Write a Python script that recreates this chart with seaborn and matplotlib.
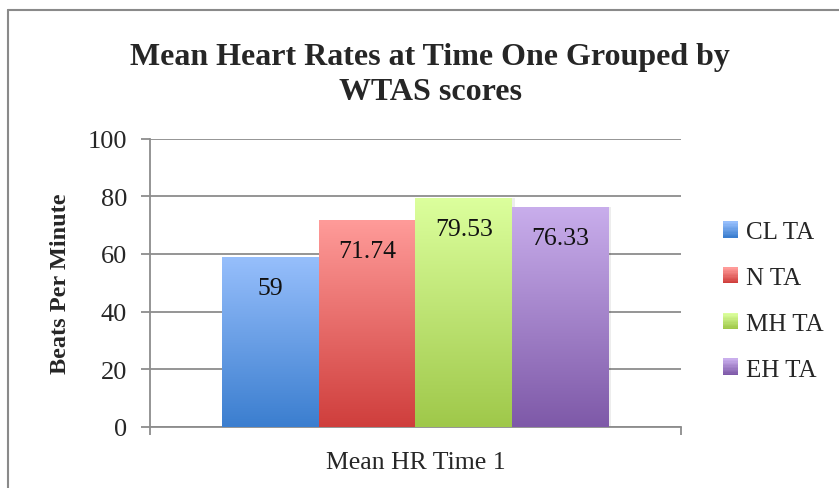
import numpy as np
import pandas as pd
import matplotlib
matplotlib.use("Agg")
import matplotlib.pyplot as plt
import seaborn as sns
from matplotlib.patches import Rectangle
from matplotlib.legend_handler import HandlerBase
from matplotlib.colors import LinearSegmentedColormap

# data
groups = ["CL TA", "N TA", "MH TA", "EH TA"]
values = [59, 71.74, 79.53, 76.33]
category = "Mean HR Time 1"
top_colors = ["#97BFFC", "#FF9B99", "#DCFF9D", "#C9AEEC"]
bottom_colors = ["#3B7ECF", "#CF3E3C", "#9FC84A", "#7E59A8"]

df = pd.DataFrame({"cat": [category] * len(groups), "group": groups, "value": values})

sns.set_theme(style="white")
plt.rcParams["font.family"] = ["Liberation Serif", "DejaVu Serif"]

grid_col = "#8c8c8c"

fig = plt.figure(figsize=(8.39, 4.89), dpi=100)
ax = fig.add_axes([150 / 839, 1 - 428 / 489, (681 - 150) / 839, (428 - 139.5) / 489])

mid_colors = [tuple((np.array(matplotlib.colors.to_rgb(t)) + np.array(matplotlib.colors.to_rgb(b))) / 2)
              for t, b in zip(top_colors, bottom_colors)]
sns.barplot(data=df, x="cat", y="value", hue="group", hue_order=groups,
            palette=mid_colors, width=0.728, saturation=1, legend=False, ax=ax, zorder=3)

# gradient fill for each bar
for patch, v, tc, bc in zip(ax.patches, values, top_colors, bottom_colors):
    x0 = patch.get_x()
    w = patch.get_width()
    h = patch.get_height()
    cmap = LinearSegmentedColormap.from_list("g", [bc, tc])
    grad = np.linspace(0, 1, 256).reshape(-1, 1)
    # soft shadow on the right
    ax.add_patch(Rectangle((x0 + 0.005, 0), w, h, facecolor="#000000", alpha=0.07,
                           edgecolor="none", zorder=2.5))
    im = ax.imshow(grad, extent=[x0, x0 + w, 0, h], origin="lower", cmap=cmap,
                   aspect="auto", zorder=3.5)
    im.set_clip_path(patch)
    patch.set_facecolor("none")
    patch.set_edgecolor("none")
    ax.annotate(f"{v:g}", (x0 + w / 2, h), xytext=(0, -22.5), textcoords="offset points",
                ha="center", va="center", fontsize=18.5, color="#111111", zorder=5)

ax.set_xlim(-0.5, 0.5)
ax.set_ylim(0, 100)
ax.set_yticks(np.arange(0, 101, 20))
ax.yaxis.grid(True, color=grid_col, linewidth=1.3, zorder=0)
ax.set_axisbelow(True)
for s in ["top", "right"]:
    ax.spines[s].set_visible(False)
for s in ["left", "bottom"]:
    ax.spines[s].set_color(grid_col)
    ax.spines[s].set_linewidth(1.3)

ax.set_xticks([0])
ax.set_xticklabels([category])
ax.set_xticks([-0.5, 0.5], minor=True)
ax.tick_params(axis="x", which="major", length=0, pad=17, labelsize=18.5)
ax.tick_params(axis="x", which="minor", length=6, width=1.3, color=grid_col, direction="out", bottom=True)
ax.tick_params(axis="y", length=6.5, width=1.3, color=grid_col, direction="out", pad=10,
               labelsize=19, left=True)
ax.set_xlabel("")
ax.set_ylabel("Beats Per Minute", fontsize=17.5, fontweight="bold", labelpad=12)


# legend with gradient squares
class GradHandler(HandlerBase):
    def __init__(self, top, bottom):
        super().__init__()
        self.top = top
        self.bottom = bottom

    def create_artists(self, legend, orig_handle, xdescent, ydescent, width, height, fontsize, trans):
        cmap = LinearSegmentedColormap.from_list("g", [self.bottom, self.top])
        n = 12
        arts = []
        for i in range(n):
            r = Rectangle((-xdescent, -ydescent + height * i / n), width, height / n + 0.3,
                          facecolor=cmap(i / (n - 1)), edgecolor="none", transform=trans)
            arts.append(r)
        return arts


handles = [Rectangle((0, 0), 1, 1) for _ in groups]
hmap = {h: GradHandler(t, b) for h, t, b in zip(handles, top_colors, bottom_colors)}
fig.legend(handles, groups, handler_map=hmap, loc="center left",
           bbox_to_anchor=(700 / 839, 1 - 302 / 489), frameon=False, fontsize=18,
           handlelength=0.62, handleheight=0.62, handletextpad=0.3, labelspacing=0.95)

# title
fig.text(430 / 839, 1 - 75 / 489, "Mean Heart Rates at Time One Grouped by\nWTAS scores",
         ha="center", va="center", fontsize=23, fontweight="bold", linespacing=1.25)

# chart border (top and left visible)
fig.add_artist(plt.Line2D([8 / 839, 1], [1 - 11 / 489, 1 - 11 / 489], color="#8a8a8a",
                          linewidth=1.5, transform=fig.transFigure))
fig.add_artist(plt.Line2D([8 / 839, 8 / 839], [0, 1 - 11 / 489], color="#8a8a8a",
                          linewidth=1.5, transform=fig.transFigure))

fig.savefig("out.png", dpi=100)
